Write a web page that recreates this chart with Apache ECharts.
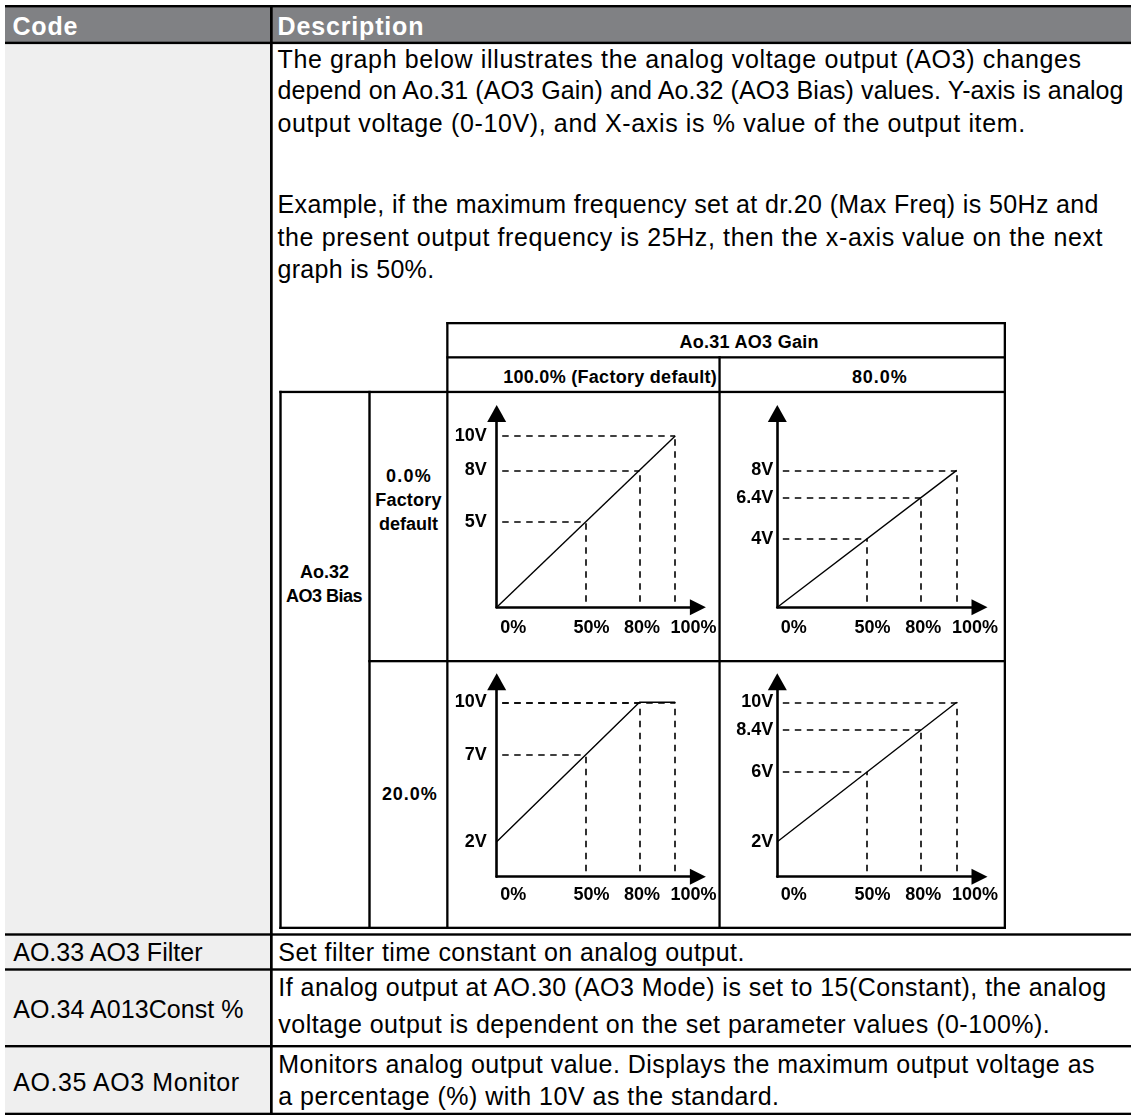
<!DOCTYPE html>
<html><head><meta charset="utf-8">
<script src="https://cdn.jsdelivr.net/npm/echarts@6/dist/echarts.min.js"></script>
<style>
html,body{margin:0;padding:0;background:#fff;}
#wrap{position:relative;width:1131px;height:1115px;overflow:hidden;background:#fff;}
#page{position:absolute;left:0;top:0;}
#chart{position:absolute;left:0;top:0;width:1131px;height:1115px;}
</style></head>
<body><div id="wrap"><svg id="page" width="1131" height="1115" xmlns="http://www.w3.org/2000/svg"></svg><div id="chart"></div></div>
<script>
// ---------------- DATA ----------------
// x axis: % value of the output item ; y axis: analog output voltage (V)
const xTickValues = [0, 50, 80, 100];

// output curves: [x %, V]
const outGain100Bias0  = [[0, 0], [100, 10]];
const outGain80Bias0   = [[0, 0], [100, 8]];
const outGain100Bias20 = [[0, 2], [80, 10], [100, 10]];
const outGain80Bias20  = [[0, 2], [100, 10]];

// reference points marked with dashed guides
const guideGain100Bias0  = [[50, 5], [80, 8], [100, 10]];
const guideGain80Bias0   = [[50, 4], [80, 6.4], [100, 8]];
const guideGain100Bias20 = [[50, 7], [80, 10], [100, 10]];
const guideGain80Bias20  = [[50, 6], [80, 8.4], [100, 10]];

// y tick labels (V)
const yTicksGain100Bias0  = [5, 8, 10];
const yTicksGain80Bias0   = [4, 6.4, 8];
const yTicksGain100Bias20 = [2, 7, 10];
const yTicksGain80Bias20  = [2, 6, 8.4, 10];

// table texts
const headerCells = ['Code', 'Description'];
const introLines = [
  'The graph below illustrates the analog voltage output (AO3) changes',
  'depend on Ao.31 (AO3 Gain) and Ao.32 (AO3 Bias) values. Y-axis is analog',
  'output voltage (0-10V), and X-axis is % value of the output item.',
  'Example, if the maximum frequency set at dr.20 (Max Freq) is 50Hz and',
  'the present output frequency is 25Hz, then the x-axis value on the next',
  'graph is 50%.'
];
const gainTitle = 'Ao.31 AO3 Gain';
const gainLabels = ['100.0% (Factory default)', '80.0%'];
const biasTitle = ['Ao.32', 'AO3 Bias'];
const biasLabels0 = ['0.0%', 'Factory', 'default'];
const biasLabel20 = '20.0%';
const codes = ['AO.33 AO3 Filter', 'AO.34 A013Const %', 'AO.35 AO3 Monitor'];
const descRows = [
  'Set filter time constant on analog output.',
  'If analog output at AO.30 (AO3 Mode) is set to 15(Constant), the analog',
  'voltage output is dependent on the set parameter values (0-100%).',
  'Monitors analog output value. Displays the maximum output voltage as',
  'a percentage (%) with 10V as the standard.'
];

// ---------------- TABLE (SVG) ----------------
const FONTNAME = 'Liberation Sans';
const FONT = "'Liberation Sans', Arial, sans-serif";
const INK = '#000';
const svg = document.getElementById('page');
const NS = 'http://www.w3.org/2000/svg';
function rect(x, y, w, h, fill) {
  const r = document.createElementNS(NS, 'rect');
  r.setAttribute('x', x); r.setAttribute('y', y);
  r.setAttribute('width', w); r.setAttribute('height', h);
  r.setAttribute('fill', fill); svg.appendChild(r);
}
function txt(s, x, y, o) {
  const t = document.createElementNS(NS, 'text');
  t.textContent = s;
  t.setAttribute('font-family', FONT);
  t.setAttribute('font-size', o.size);
  if (o.bold) t.setAttribute('font-weight', 'bold');
  t.setAttribute('fill', o.fill || INK);
  t.setAttribute('x', o.right != null ? x - 0.8 : x);
  if (o.anchor) t.setAttribute('text-anchor', o.anchor);
  t.setAttribute('y', y);
  t.style.whiteSpace = 'pre';
  svg.appendChild(t);
  if (o.right != null) {
    t.setAttribute('textLength', (o.right - x) + 1.6);
    t.setAttribute('lengthAdjust', 'spacing');
  }
  return t;
}
const LINE = '#000';
// backgrounds
rect(5, 7, 1126, 35, '#808184');
rect(5, 44, 265.5, 1069, '#efefef');
// outer lines
rect(5, 5, 1126, 2.4, LINE);
rect(5, 41.7, 1126, 2.4, LINE);
rect(270, 5, 2.7, 1110, LINE);
rect(5, 933.3, 1126, 2.4, LINE);
rect(5, 968.3, 1126, 2.4, LINE);
rect(5, 1045, 1126, 2.4, LINE);
rect(5, 1112.7, 1126, 2.4, LINE);
// inner table
rect(446.4, 322, 559.6, 2.3, LINE);
rect(446.4, 356.2, 559.6, 2.3, LINE);
rect(279.3, 390.8, 726.7, 2.3, LINE);
rect(368.3, 660, 637.7, 2.3, LINE);
rect(279.3, 926.7, 726.7, 2.3, LINE);
rect(279.3, 390.8, 2.4, 538.2, LINE);
rect(368.3, 390.8, 2.4, 538.2, LINE);
rect(446.2, 322, 2.3, 607, LINE);
rect(718.4, 356.2, 2.3, 572.8, LINE);
rect(1003.7, 322, 2.3, 607, LINE);

const BODY = 25;
// header texts
txt(headerCells[0], 13.3, 35, {size: 25, bold: true, fill: '#fff', right: 76.6});
txt(headerCells[1], 278.3, 35, {size: 25, bold: true, fill: '#fff', right: 422.7});
// intro paragraph (right edges)
const introBase = [68.3, 99.3, 131.7, 213.3, 246, 278.3];
const introRight = [1080.3, 1122.7, 1024.3, 1097.7, 1101.7, 433.3];
const ratios = [];
introLines.forEach((s, i) => {
  const t = txt(s, 278.3, introBase[i], {size: BODY});
  const nat = t.getComputedTextLength();
  const target = introRight[i] - 278.3 + 1.6;
  if (i < 5) ratios.push(target / nat);
  t.setAttribute('x', 278.3 - 0.8);
  t.setAttribute('textLength', target);
  t.setAttribute('lengthAdjust', 'spacing');
});
const kAvg = ratios.reduce((a, b) => a + b, 0) / ratios.length;
// inner table texts
txt(gainTitle, 680.3, 348.3, {size: 18, bold: true, right: 817.7});
txt(gainLabels[0], 504, 383, {size: 18, bold: true, right: 716});
txt(gainLabels[1], 852.7, 383.3, {size: 18, bold: true, right: 906});
txt(biasLabels0[0], 386.7, 482, {size: 18, bold: true, right: 430});
txt(biasLabels0[1], 376, 506.3, {size: 18, bold: true, right: 440.7});
txt(biasLabels0[2], 408.5, 530, {size: 18, bold: true, anchor: 'middle'});
txt(biasTitle[0], 324.5, 578, {size: 18, bold: true, anchor: 'middle'});
txt(biasTitle[1], 286.7, 602, {size: 18, bold: true, right: 361.7});
txt(biasLabel20, 382.7, 799.8, {size: 18, bold: true, right: 436});
// bottom rows
txt(codes[0], 14, 961, {size: BODY, right: 201.7});
txt(codes[1], 14, 1017.7, {size: BODY, right: 242.7});
txt(codes[2], 14, 1090.7, {size: BODY, right: 238.3});
const descBase = [961, 996, 1032.7, 1073.3, 1105];
descRows.forEach((s, i) => {
  const t = txt(s, 278.3, descBase[i], {size: BODY});
  const nat = t.getComputedTextLength();
  t.setAttribute('textLength', nat * kAvg);
  t.setAttribute('lengthAdjust', 'spacing');
});

// ---------------- GRAPHS (ECharts) ----------------
const graphs = [
  {line: outGain100Bias0,  guides: guideGain100Bias0,  yTicks: yTicksGain100Bias0},
  {line: outGain80Bias0,   guides: guideGain80Bias0,   yTicks: yTicksGain80Bias0},
  {line: outGain100Bias20, guides: guideGain100Bias20, yTicks: yTicksGain100Bias20},
  {line: outGain80Bias20,  guides: guideGain80Bias20,  yTicks: yTicksGain80Bias20}
];
// layout (pixels)
const originX = [496.7, 777.3];
const originY = [607.3, 876.7];
const pxPerPct = [1.785, 1.794];
const pxPerVolt = [17.12, 17.44];
const xMax = 112.7;
const yMax = [11.32, 11.18];
const xLabelMargin = [20.5, 18];
const yLabelMargin = [10, 4];
const xLabelShift = [16.5, 5.6, 2.4, 18.3];

const labelFont = {fontFamily: FONTNAME, fontWeight: 'bold', fontSize: 18, color: '#000'};
const xRich = {};
xTickValues.forEach((v, i) => { xRich['x' + i] = Object.assign({padding: [0, 0, 0, 2 * xLabelShift[i]]}, labelFont); });

const grid = [], xAxis = [], yAxis = [], series = [];
graphs.forEach((g, i) => {
  const c = i % 2, r = Math.floor(i / 2);
  const h = yMax[r] * pxPerVolt[r];
  grid.push({left: originX[c], top: originY[r] - h, width: xMax * pxPerPct[c], height: h, containLabel: false});
  const axisLine = (size) => ({show: true, onZero: false, symbol: ['none', 'triangle'], symbolSize: size,
                               lineStyle: {color: '#000', width: 2.6}});
  xAxis.push({
    type: 'value', gridIndex: i, min: 0, max: xMax,
    axisLine: axisLine([16, 16]), axisTick: {show: false}, splitLine: {show: false},
    axisLabel: Object.assign({}, labelFont, {
      customValues: xTickValues, margin: xLabelMargin[r], verticalAlign: 'middle',
      formatter: (v) => { const k = xTickValues.indexOf(v); return k < 0 ? '' : '{x' + k + '|' + v + '%}'; },
      rich: xRich
    })
  });
  yAxis.push({
    type: 'value', gridIndex: i, min: 0, max: yMax[r],
    axisLine: axisLine([19, 17]), axisTick: {show: false}, splitLine: {show: false},
    axisLabel: Object.assign({}, labelFont, {
      customValues: g.yTicks, margin: yLabelMargin[c],
      formatter: (v) => g.yTicks.some(t => Math.abs(t - v) < 1e-6) ? v + 'V' : ''
    })
  });
  const guideLines = [];
  g.guides.forEach(([x, y]) => {
    guideLines.push([{coord: [0, y]}, {coord: [x, y]}]);
    guideLines.push([{coord: [x, 0]}, {coord: [x, y]}]);
  });
  series.push({
    type: 'line', xAxisIndex: i, yAxisIndex: i, data: g.line, symbol: 'none', silent: true, z: 3,
    lineStyle: {color: '#000', width: 1.4},
    markLine: {
      silent: true, symbol: ['none', 'none'], label: {show: false}, animation: false,
      lineStyle: {color: '#000', width: 1.6, type: [6.5, 5.5], dashOffset: 6.5},
      emphasis: {disabled: true},
      data: guideLines
    }
  });
});

const chart = echarts.init(document.getElementById('chart'), null, {renderer: 'canvas', width: 1131, height: 1115});
chart.setOption({animation: false, backgroundColor: 'transparent', grid, xAxis, yAxis, series});
</script>
</body></html>
